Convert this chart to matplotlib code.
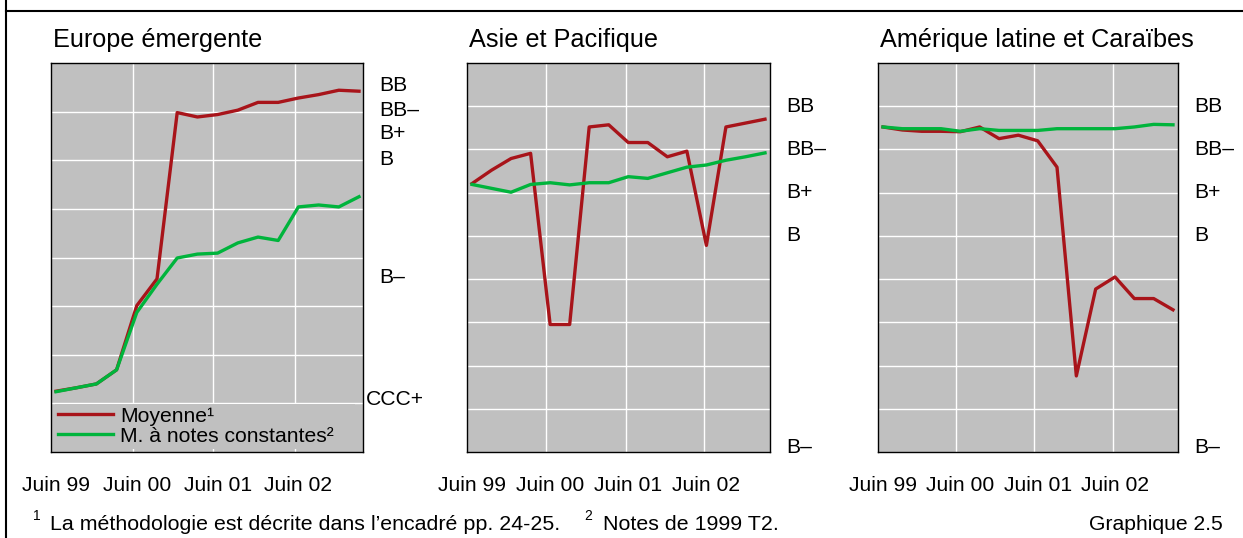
import matplotlib
matplotlib.use("Agg")
import matplotlib.pyplot as plt
from matplotlib.lines import Line2D
import numpy as np

plt.rcParams["font.family"] = ["Liberation Sans", "DejaVu Sans"]

# ---- data (y in grid-step units, 0 = bottom of panel) ----
quarters = np.arange(16)                       # Juin 99 ... Mars 03
tick_pos = [0, 4, 8, 12]
tick_labels = ["Juin 99", "Juin 00", "Juin 01", "Juin 02"]

europe_moy = [1.25, 1.32, 1.40, 1.69, 3.01, 3.56, 6.98, 6.89,
              6.94, 7.03, 7.19, 7.19, 7.28, 7.35, 7.44, 7.42]
europe_cst = [1.24, 1.32, 1.40, 1.69, 2.87, 3.45, 3.99, 4.07,
              4.09, 4.30, 4.42, 4.35, 5.04, 5.08, 5.04, 5.25]

asie_moy = [6.21, 6.52, 6.79, 6.91, 2.95, 2.95, 7.52, 7.57,
            7.16, 7.16, 6.83, 6.96, 4.78, 7.52, 7.61, 7.70]
asie_cst = [6.19, 6.10, 6.01, 6.19, 6.23, 6.18, 6.23, 6.23,
            6.37, 6.33, 6.46, 6.59, 6.64, 6.75, 6.83, 6.92]

amlat_moy = [7.52, 7.45, 7.42, 7.42, 7.41, 7.52, 7.25, 7.33,
             7.20, 6.59, 1.76, 3.77, 4.05, 3.55, 3.55, 3.29]
amlat_cst = [7.52, 7.48, 7.48, 7.48, 7.42, 7.48, 7.44, 7.44,
             7.44, 7.48, 7.48, 7.48, 7.48, 7.52, 7.58, 7.57]

europe_ratings = ["BB", "BB\u2013", "B+", "B", "B\u2013", "CCC+"]
europe_rating_pos = [7.54, 7.03, 6.54, 6.02, 3.58, 1.08]
other_ratings = ["BB", "BB\u2013", "B+", "B", "B\u2013"]
other_rating_pos = [8, 7, 6, 5, 0.1]

titles = ["Europe émergente", "Asie et Pacifique", "Amérique latine et Caraïbes"]

RED = "#a8141a"
GREEN = "#00b43c"
BG = "#c0c0c0"
W, H = 1243, 538

fig = plt.figure(figsize=(W / 100, H / 100), dpi=100)

# panel geometry in pixels: left, right, first point x, last point x
panels = [
    dict(l=51, r=363, x0=56, x1=359, ny=8, moy=europe_moy, cst=europe_cst,
         rat=europe_ratings, rpos=europe_rating_pos),
    dict(l=467, r=770, x0=472, x1=765, ny=9, moy=asie_moy, cst=asie_cst,
         rat=other_ratings, rpos=other_rating_pos),
    dict(l=878, r=1178, x0=883, x1=1173, ny=9, moy=amlat_moy, cst=amlat_cst,
         rat=other_ratings, rpos=other_rating_pos),
]
grid_px = [[133, 213, 295], [546, 626, 704], [956, 1034, 1113]]
top_px, bot_px = 63, 452

for i, p in enumerate(panels):
    ax = fig.add_axes([p["l"] / W, 1 - bot_px / H, (p["r"] - p["l"]) / W,
                       (bot_px - top_px) / H])
    step = (p["x1"] - p["x0"]) / 15
    ax.set_xlim((p["l"] - p["x0"]) / step, (p["r"] - p["x0"]) / step)
    ax.set_ylim(0, p["ny"])
    ax.set_facecolor(BG)
    ax.set_axisbelow(True)

    ax.plot(quarters, p["moy"], color=RED, lw=2.4, label="Moyenne¹", zorder=3)
    ax.plot(quarters, p["cst"], color=GREEN, lw=2.4,
            label="M. à notes constantes²", zorder=3)

    # grid
    for gx in grid_px[i]:
        ax.axvline((gx - p["x0"]) / step, color="white", lw=1.0, zorder=1)
    for gy in range(1, p["ny"]):
        ax.axhline(gy, color="white", lw=1.0, zorder=1)

    ax.set_yticks([])
    ax.set_xticks(tick_pos)
    ax.set_xticklabels(tick_labels, fontsize=15.2)
    ax.tick_params(axis="x", length=0, pad=17)
    for s in ax.spines.values():
        s.set_linewidth(1.0)
        s.set_color("black")

    # rating labels on the right
    for name, pos in zip(p["rat"], p["rpos"]):
        off = 2 if name == "CCC+" else 11.5
        ax.annotate(name, xy=(1, pos), xycoords=("axes fraction", "data"),
                    xytext=(off, 0), textcoords="offset points",
                    ha="left", va="center", fontsize=15.2, annotation_clip=False)

    ax.annotate(titles[i], xy=(0, 1), xycoords="axes fraction",
                xytext=(1.5, 11.5), textcoords="offset points",
                ha="left", va="baseline", fontsize=18.2)

    if i == 0:
        wpx = p["r"] - p["l"]
        hpx = bot_px - top_px
        leg = ax.legend(loc="lower left",
                        bbox_to_anchor=(4 / wpx, 3 / hpx, 300 / wpx, 53 / hpx),
                        mode="expand", fontsize=15.2, frameon=True,
                        facecolor=BG, edgecolor="none", framealpha=1,
                        fancybox=False, borderpad=0.15, labelspacing=0.05,
                        handlelength=2.6, handletextpad=0.35,
                        borderaxespad=0)
        leg.set_zorder(2)

# frame lines
fig.add_artist(Line2D([6 / W, 6 / W], [0, 1], color="black", lw=1.5))
fig.add_artist(Line2D([6 / W, 1], [1 - 11 / H, 1 - 11 / H], color="black", lw=1.5))

# footnotes
fy = 1 - 524 / H
sy = 1 - 516 / H
fig.text(33 / W, sy, "1", fontsize=10, va="center", ha="left")
fig.text(50 / W, fy, "La méthodologie est décrite dans l\u2019encadré pp. 24-25.",
         fontsize=15.4, va="center", ha="left")
fig.text(584 / W, sy, "2", fontsize=10, va="center", ha="left")
fig.text(603 / W, fy, "Notes de 1999 T2.", fontsize=15.4, va="center", ha="left")
fig.text(1223 / W, fy, "Graphique 2.5", fontsize=15.2, va="center", ha="right")

fig.savefig("out.png", dpi=100, facecolor="white")
